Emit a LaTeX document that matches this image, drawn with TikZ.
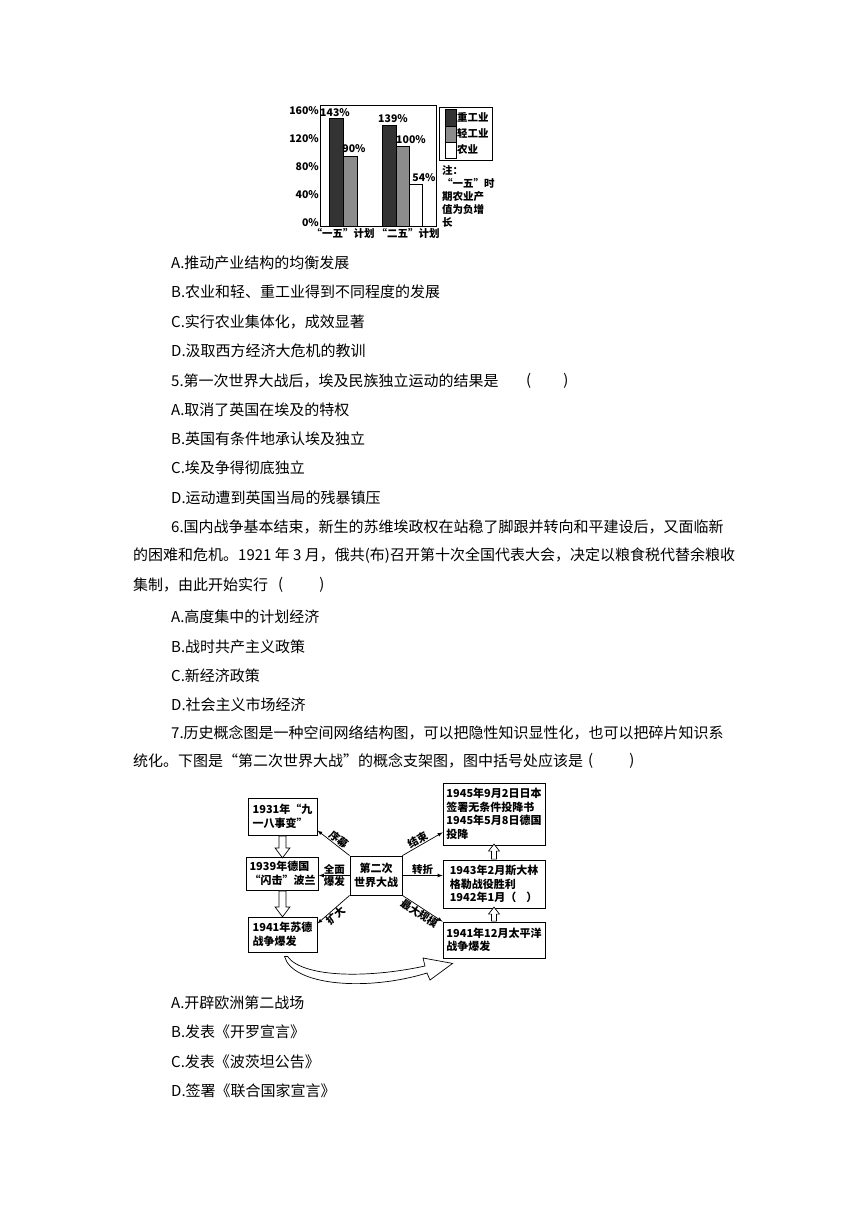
\documentclass[tikz,border=0pt]{standalone}
\usepackage{fontspec}
\setmainfont{Noto Sans CJK SC}
\usetikzlibrary{arrows, positioning, calc}

\definecolor{heavybar}{gray}{0.2}
\definecolor{lightbar}{gray}{0.55}

\tikzset{
  line/.style={anchor=west, inner sep=0pt, font=\fontsize{15}{18}\selectfont},
  chart/.style={inner sep=0pt, font=\bfseries\fontsize{10.5}{13}\selectfont},
  eventbox/.style={draw, line width=0.8pt, inner sep=3pt, align=left, font=\bfseries\fontsize{11}{13.5}\selectfont},
  tag/.style={inner sep=0.5pt, font=\bfseries\fontsize{10.5}{11.5}\selectfont},
  pics/blockdown/.style={code={\draw[fill=white, line width=0.7pt] (-3.5,0) -- (-3.5,#1-10) -- (-7.5,#1-10) -- (0,#1) -- (7.5,#1-10) -- (3.5,#1-10) -- (3.5,0) -- cycle;}},
  pics/blockup/.style={code={\draw[fill=white, line width=0.7pt] (-2.5,0) -- (-2.5,-#1+7) -- (-5.5,-#1+7) -- (0,-#1) -- (5.5,-#1+7) -- (2.5,-#1+7) -- (2.5,0) -- cycle;}}
}

\begin{document}
\begin{tikzpicture}[x=1pt, y=-1pt]
        \useasboundingbox (0,0) rectangle (860,1216);

        % bar chart
        \node[chart, anchor=east] (Tick160) at (319,110.5) {160\%};
        \node[chart, anchor=east] (Tick120) at (319,138.5) {120\%};
        \node[chart, anchor=east] (Tick80) at (319,167) {80\%};
        \node[chart, anchor=east] (Tick40) at (319,195) {40\%};
        \node[chart, anchor=east] (Tick0) at (319,222.5) {0\%};
        \draw[line width=0.8pt] (320,105) rectangle (436,226);
        \draw[fill=heavybar] (329,226) rectangle (343,118);
        \draw[fill=lightbar] (343,226) rectangle (357,156);
        \draw[fill=heavybar] (382,226) rectangle (396,125);
        \draw[fill=lightbar] (396,226) rectangle (409,146);
        \draw[fill=white] (409,226) rectangle (422,184);
        \node[chart] (Val143) at (335,112.5) {143\%};
        \node[chart] (Val90) at (354,149) {90\%};
        \node[chart] (Val139) at (393,119) {139\%};
        \node[chart] (Val100) at (411,140) {100\%};
        \node[chart] (Val54) at (424,178) {54\%};
        \node[chart] (PlanOne) at (343,233) {“一五”计划};
        \node[chart] (PlanTwo) at (408,233) {“二五”计划};
        \draw[line width=0.8pt] (439,107) rectangle (492,160);
        \draw[fill=heavybar] (445,109) rectangle (456,126);
        \draw[fill=lightbar] (445,126) rectangle (456,142);
        \draw[fill=white] (445,142) rectangle (456,158);
        \node[chart, anchor=west] (KeyHeavy) at (457,117) {重工业};
        \node[chart, anchor=west] (KeyLight) at (457,133) {轻工业};
        \node[chart, anchor=west] (KeyFarm) at (457,150) {农业};
        \node[chart, anchor=north west, align=left] (Note) at (442,165) {注：\\“一五”时\\期农业产\\值为负增\\长};

        % question text
        \node[line] (Opt4A) at (171,263) {A.推动产业结构的均衡发展};
        \node[line] (Opt4B) at (171,292) {B.农业和轻、重工业得到不同程度的发展};
        \node[line] (Opt4C) at (171,322) {C.实行农业集体化，成效显著};
        \node[line] (Opt4D) at (171,351) {D.汲取西方经济大危机的教训};
        \node[line] (Q5) at (171,381) {5.第一次世界大战后，埃及民族独立运动的结果是};
        \node[line] (Q5Blank) at (526,381) {(\hspace{32pt})};
        \node[line] (Opt5A) at (171,410) {A.取消了英国在埃及的特权};
        \node[line] (Opt5B) at (171,439) {B.英国有条件地承认埃及独立};
        \node[line] (Opt5C) at (171,468) {C.埃及争得彻底独立};
        \node[line] (Opt5D) at (171,498) {D.运动遭到英国当局的残暴镇压};
        \node[line] (Q6a) at (171,527) {6.国内战争基本结束，新生的苏维埃政权在站稳了脚跟并转向和平建设后，又面临新};
        \node[line] (Q6b) at (133,556) {的困难和危机。1921 年 3 月，俄共(布)召开第十次全国代表大会，决定以粮食税代替余粮收};
        \node[line] (Q6c) at (133,585) {集制，由此开始实行};
        \node[line] (Q6Blank) at (278,585) {(\hspace{36pt})};
        \node[line] (Opt6A) at (171,617) {A.高度集中的计划经济};
        \node[line] (Opt6B) at (171,647) {B.战时共产主义政策};
        \node[line] (Opt6C) at (171,676) {C.新经济政策};
        \node[line] (Opt6D) at (171,705) {D.社会主义市场经济};
        \node[line] (Q7a) at (171,733) {7.历史概念图是一种空间网络结构图，可以把隐性知识显性化，也可以把碎片知识系};
        \node[line] (Q7b) at (133,761) {统化。下图是“第二次世界大战”的概念支架图，图中括号处应该是};
        \node[line] (Q7Blank) at (588,761) {(\hspace{36pt})};
        \node[line] (Opt7A) at (171,1003) {A.开辟欧洲第二战场};
        \node[line] (Opt7B) at (171,1032) {B.发表《开罗宣言》};
        \node[line] (Opt7C) at (171,1062) {C.发表《波茨坦公告》};
        \node[line] (Opt7D) at (171,1091) {D.签署《联合国家宣言》};

        % concept map
        \node[eventbox, minimum width=69pt, minimum height=37pt] (Box1931) at (282.5,816.5) {1931年“九\\一八事变”};
        \node[eventbox, minimum width=69pt, minimum height=33pt] (Box1939) at (282.5,873.5) {1939年德国\\“闪击”波兰};
        \node[eventbox, minimum width=69pt, minimum height=35pt] (BoxSovGer) at (282.5,934.5) {1941年苏德\\战争爆发};
        \node[eventbox, align=center, minimum width=52pt, minimum height=39pt] (WarCenter) at (376,875.5) {第二次\\世界大战};
        \node[eventbox, minimum width=102pt, minimum height=62pt] (Box1945) at (494,814) {1945年9月2日日本\\签署无条件投降书\\1945年5月8日德国\\投降};
        \node[eventbox, minimum width=102pt, minimum height=48pt] (Box1943) at (494,884) {1943年2月斯大林\\格勒战役胜利\\1942年1月（\hspace{10pt}）};
        \node[eventbox, minimum width=102pt, minimum height=36pt] (BoxPacific) at (494,940) {1941年12月太平洋\\战争爆发};

        \draw[-latex, line width=0.7pt] (WarCenter.north west) -- ([yshift=5pt] Box1931.south east) node[tag, pos=0.45, above, sloped] {序幕};
        \draw[-latex, line width=0.7pt] (WarCenter.west) -- (WarCenter.west -| Box1939.east) node[tag, midway, above] {全面} node[tag, midway, below] {爆发};
        \draw[-latex, line width=0.7pt] (WarCenter.south west) -- ([yshift=-7pt] BoxSovGer.north east) node[tag, pos=0.55, below, sloped] {扩大};
        \draw[-latex, line width=0.7pt] (WarCenter.north east) -- ([yshift=13pt] Box1945.south west) node[tag, pos=0.45, above, sloped] {结束};
        \draw[-latex, line width=0.7pt] (WarCenter.east) -- (WarCenter.east -| Box1943.west) node[tag, midway, above] {转折};
        \draw[-latex, line width=0.7pt] (WarCenter.south east) -- (BoxPacific.north west) node[tag, pos=0.5, below, sloped] {最大规模};

        \pic at ([yshift=-0.5pt] Box1931.south) {blockdown=22};
        \pic at ([yshift=-0.5pt] Box1939.south) {blockdown=26};
        \pic at ([yshift=0.5pt] BoxPacific.north) {blockup=14};
        \pic at ([yshift=0.5pt] Box1943.north) {blockup=15};

        \coordinate (SweepTail) at ([xshift=5pt, yshift=-4pt] BoxSovGer.south);
        \coordinate (SweepHead) at ([xshift=10pt, yshift=-5pt] BoxPacific.south west);
        \draw[fill=white, line width=0.7pt] (SweepTail) .. controls (302,977) and (365,979) .. (425,966) -- (423,958) -- (SweepHead) -- (430,980) -- (427,973) .. controls (365,992) and (292,985) .. ([xshift=-3pt] SweepTail) -- cycle;
    \end{tikzpicture}
\end{document}
